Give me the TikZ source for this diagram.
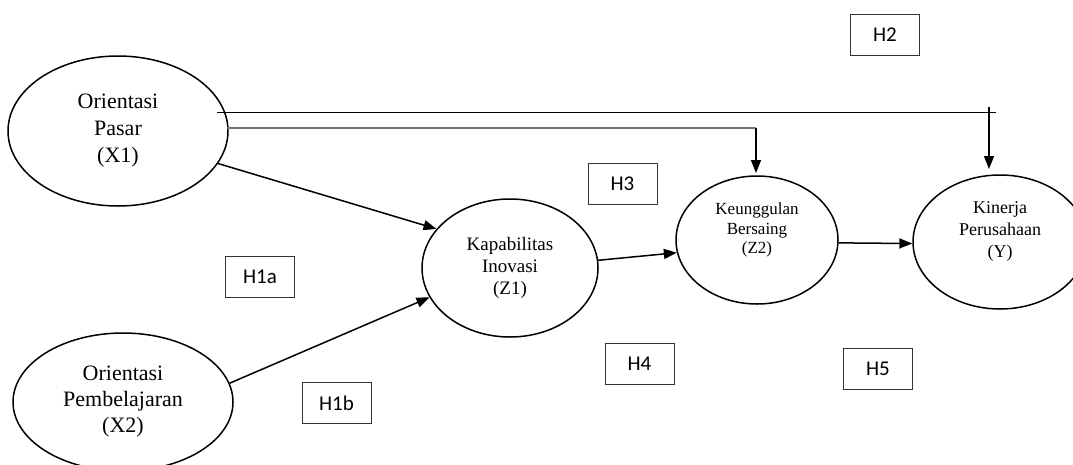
\documentclass[tikz,border=0pt]{standalone}
\usepackage{fontspec}
\setmainfont{Liberation Serif}
\newfontfamily\boxfont{Carlito}
\usetikzlibrary{shapes.geometric,arrows.meta}
\begin{document}
\begin{tikzpicture}[x=1pt,y=-1pt,
  var/.style={draw,ellipse,line width=1.5pt,inner sep=0pt,align=center},
  hbox/.style={draw=black!80,line width=1pt,minimum width=69pt,minimum height=41pt,inner sep=0pt,font=\boxfont\fontsize{21}{25}\selectfont},
  link/.style={line width=1.5pt,-{Triangle[length=13pt,width=10pt]}},
  plain/.style={line width=0.9pt},
  greyline/.style={line width=1.4pt,draw=black!55}]
\useasboundingbox (0,0) rectangle (1073,464);
\clip (0,0) rectangle (1073,464);
% variables
\node[var,minimum width=220pt,minimum height=150pt,font=\fontsize{22}{27}\selectfont] (x1) at (118,131) {Orientasi\\Pasar\\(X1)};
\node[var,minimum width=220pt,minimum height=138pt,font=\fontsize{22}{26}\selectfont] (x2) at (123,402) {Orientasi\\Pembelajaran\\(X2)};
\node[var,minimum width=176pt,minimum height=138pt,font=\fontsize{19}{22}\selectfont] (z1) at (510,268) {Kapabilitas\\Inovasi\\(Z1)};
\node[var,minimum width=162pt,minimum height=128pt,font=\fontsize{17}{19.5}\selectfont] (z2) at (757,240) {Keunggulan\\Bersaing\\(Z2)\\[4pt]};
\node[var,minimum width=174pt,minimum height=134pt,font=\fontsize{18}{22}\selectfont] (y) at (1000,242) {Kinerja\\Perusahaan\\(Y)\\[2pt]};
% hypothesis boxes
\node[hbox] (h2) at (885,34.5) {H2};
\node[hbox] (h3) at (622.5,183.5) {H3};
\node[hbox] (h1a) at (260,276.5) {H1a};
\node[hbox] (h1b) at (336.5,403) {H1b};
\node[hbox] (h4) at (639.5,363.5) {H4};
\node[hbox] (h5) at (878,369) {H5};
% connector points
\coordinate (t0) at (217,112.5);
\coordinate (t1) at (996,112.5);
\coordinate (tk) at (989,107);
\coordinate (yin) at (989,169);
\coordinate (c0) at (227,128);
\coordinate (c1) at (756,128);
\coordinate (z2in) at (756,173);
% connectors
\draw[plain] (t0) -- (t1);
\draw[link] (tk) -- (yin);
\draw[greyline] (c0) -- (c1);
\draw[link] (c1) -- (z2in);
\draw[link] (x1.-18) -- (z1.152.5);
\draw[link] (x2.10.6) -- (z1.200.7);
\draw[link] (z1.5) -- (z2.189);
\draw[link] (z2.-2) -- (y.181);
\end{tikzpicture}
\end{document}
